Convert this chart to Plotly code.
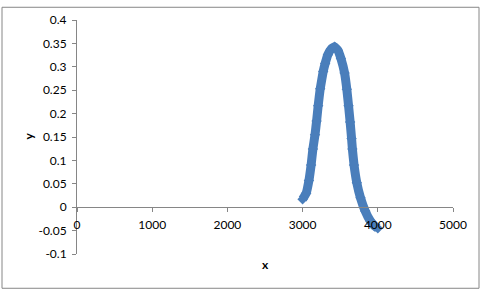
import plotly.graph_objects as go

x_vals = [3000, 3048, 3084, 3113, 3137, 3165, 3186, 3207, 3234, 3274, 3300, 3336,
          3380, 3425, 3470, 3509, 3558, 3588, 3611, 3632, 3651, 3662, 3684, 3721,
          3770, 3832, 3899, 3950, 4000]
y_vals = [0.017, 0.030, 0.057, 0.090, 0.1245, 0.155, 0.184, 0.217, 0.253, 0.290, 0.307, 0.326,
          0.338, 0.343, 0.335, 0.318, 0.287, 0.252, 0.217, 0.182, 0.147, 0.1245, 0.090, 0.052,
          0.020, -0.008, -0.029, -0.039, -0.045]

x_ticks = [0, 1000, 2000, 3000, 4000, 5000]
y_ticks = [0.4, 0.35, 0.3, 0.25, 0.2, 0.15, 0.1, 0.05, 0, -0.05, -0.1]
y_tick_text = ["0.4", "0.35", "0.3", "0.25", "0.2", "0.15", "0.1", "0.05", "0", "-0.05", "-0.1"]

BLUE = "#4A7EBB"
GREY = "#868686"
FONT = "Lato"

fig = go.Figure()
fig.add_trace(go.Scatter(
    x=x_vals, y=y_vals, mode="lines+markers",
    line=dict(color=BLUE, width=9, shape="spline", smoothing=0.3),
    marker=dict(symbol="diamond", size=8, color=BLUE),
    showlegend=False, cliponaxis=False,
))

fig.update_layout(
    width=483, height=292,
    margin=dict(l=77, r=30, t=15, b=38, pad=0),
    paper_bgcolor="white", plot_bgcolor="white",
    font=dict(family=FONT, size=12, color="black"),
    xaxis=dict(range=[0, 5000], tickvals=x_ticks, ticks="outside", ticklen=4,
               tickcolor=GREY, showline=True, linecolor=GREY, linewidth=1,
               showgrid=False, zeroline=False, anchor="free", position=0.2,
               ticklabelstandoff=2,
               tickfont=dict(family=FONT, size=12, color="black")),
    yaxis=dict(range=[-0.1, 0.4], tickvals=y_ticks, ticktext=y_tick_text,
               ticks="outside", ticklen=4, tickcolor=GREY, showline=True,
               linecolor=GREY, linewidth=1, showgrid=False, zeroline=False,
               ticklabelstandoff=3,
               tickfont=dict(family=FONT, size=12, color="black")),
    shapes=[dict(type="rect", xref="paper", yref="paper",
                 x0=(2 - 77) / 376, x1=(479 - 77) / 376,
                 y0=(254 - 289) / 239, y1=(254 - 2) / 239,
                 line=dict(color=GREY, width=1), fillcolor="rgba(0,0,0,0)",
                 layer="below")],
    annotations=[
        dict(text="<b>x</b>", xref="paper", yref="paper",
             x=(265 - 77) / 376, y=(254 - 265) / 239, showarrow=False,
             xanchor="center", yanchor="middle",
             font=dict(family=FONT, size=12, color="black")),
        dict(text="<b>y</b>", xref="paper", yref="paper",
             x=(29 - 77) / 376, y=(254 - 134) / 239, showarrow=False,
             xanchor="center", yanchor="middle",
             textangle=-90, font=dict(family=FONT, size=12, color="black")),
    ],
)

fig.write_html("out.html")
